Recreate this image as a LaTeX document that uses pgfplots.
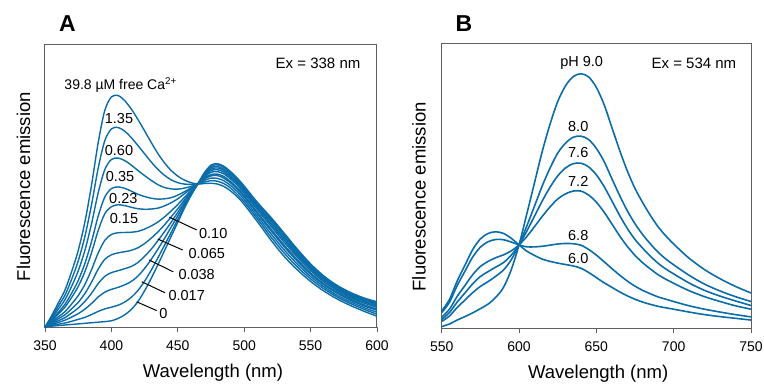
\documentclass[border=0pt]{standalone}
\usepackage{fontspec}
\setmainfont{Liberation Sans}
\usepackage{pgfplots}
\pgfplotsset{compat=1.18}
\usepackage{pgfplotstable}
\definecolor{curve}{RGB}{10,108,168}
\definecolor{frame}{RGB}{95,95,95}

\pgfplotstableread{
x c0 c1 c2 c3 c4 c5 c6 c7 c8 c9 c10
350 0 0 0 0 0 0 0 0 0 0 0
355 0.3 0.5 0.8 1.1 1.4 1.7 2.2 2.5 3.0 3.5 4.0
360 0.5 1.0 1.6 2.2 2.9 3.6 4.6 5.2 6.3 7.4 8.5
365 0.7 1.4 2.4 3.3 4.3 5.4 7.0 8.0 9.6 11.2 13.0
370 0.9 2.0 3.5 4.9 6.4 8.1 10.4 11.9 14.3 16.8 19.5
375 1.1 2.7 4.7 6.7 8.7 11.1 14.3 16.4 19.8 23.3 27.0
380 1.3 3.4 6.3 9.0 11.8 15.0 19.5 22.4 27.0 31.9 37.0
385 1.5 4.4 8.3 11.9 15.8 20.2 26.2 30.1 36.4 43.1 50.0
390 1.7 5.5 10.6 15.3 20.4 26.1 34.0 39.1 47.3 56.0 65.0
395 1.9 6.4 12.3 17.9 23.9 30.6 40.0 45.9 55.6 65.8 76.5
400 2.2 7.0 13.3 19.2 25.5 32.7 42.5 48.9 59.2 70.0 81.3
405 3.0 7.7 14.0 19.9 26.2 33.3 43.2 49.5 59.7 70.5 81.8
410 4.3 8.8 14.9 20.6 26.6 33.4 42.9 49.0 58.8 69.2 80.0
415 6.2 10.5 16.1 21.4 27.1 33.5 42.3 48.0 57.2 66.9 77.0
420 9.0 12.9 18.0 22.8 28.0 33.8 41.8 46.9 55.3 64.1 73.3
425 12.8 16.2 20.7 25.0 29.5 34.6 41.6 46.1 53.5 61.2 69.3
430 17.2 20.1 23.9 27.5 31.4 35.7 41.7 45.5 51.8 58.3 65.2
435 22.0 24.4 27.5 30.5 33.6 37.1 42.0 45.2 50.3 55.7 61.3
440 27.0 28.9 31.3 33.7 36.1 38.9 42.8 45.3 49.3 53.6 58.0
445 32.0 33.4 35.3 37.0 38.9 41.0 43.9 45.7 48.8 52.0 55.3
450 37.0 38.0 39.3 40.5 41.8 43.3 45.3 46.6 48.7 51.0 53.3
455 42.0 42.6 43.4 44.1 44.9 45.8 47.1 47.8 49.1 50.5 51.9
460 46.5 46.8 47.1 47.5 47.8 48.2 48.8 49.2 49.7 50.4 51.0
465 50.5 50.5 50.5 50.5 50.5 50.5 50.5 50.5 50.5 50.5 50.5
470 54.5 54.3 54.0 53.7 53.4 53.0 52.6 52.3 51.8 51.2 50.7
475 57.2 56.8 56.3 55.8 55.3 54.7 53.9 53.4 52.6 51.7 50.8
480 57.7 57.3 56.7 56.2 55.6 54.9 54.0 53.5 52.5 51.5 50.5
485 56.7 56.3 55.7 55.2 54.6 54.0 53.1 52.5 51.6 50.6 49.6
490 54.8 54.4 53.9 53.3 52.8 52.2 51.3 50.8 49.9 49.0 48.0
495 52.5 52.1 51.6 51.1 50.6 50.0 49.1 48.6 47.8 46.8 45.9
500 49.8 49.4 48.9 48.4 47.9 47.3 46.5 46.0 45.1 44.2 43.3
510 44.0 43.6 43.0 42.5 42.0 41.4 40.5 40.0 39.1 38.2 37.2
520 38.8 38.3 37.7 37.1 36.4 35.7 34.7 34.1 33.0 31.9 30.8
530 33.2 32.7 32.1 31.4 30.8 30.0 29.0 28.4 27.3 26.2 25.0
540 27.5 27.1 26.5 25.9 25.3 24.7 23.8 23.2 22.2 21.2 20.2
550 22.3 21.9 21.4 21.0 20.5 19.9 19.1 18.6 17.8 17.0 16.1
560 18.0 17.7 17.3 16.9 16.4 16.0 15.3 14.9 14.2 13.5 12.7
570 14.7 14.4 14.0 13.7 13.3 12.9 12.3 11.9 11.2 10.6 9.9
580 12.2 11.9 11.6 11.2 10.8 10.4 9.9 9.5 8.9 8.3 7.6
590 10.3 10.0 9.6 9.3 8.9 8.5 7.9 7.5 6.9 6.3 5.6
600 8.9 8.6 8.2 7.8 7.4 6.9 6.3 5.9 5.2 4.5 3.8
}\dataA

\pgfplotstableread{
x p60 p68 p72 p76 p80 p90
550 6.0 5.4 3.8 3.0 2.3 0.5
555 10.0 9.0 6.6 5.4 4.2 1.4
560 16.5 14.9 11.1 9.1 7.2 2.8
565 22.0 19.9 14.9 12.3 9.8 4.0
570 27.5 24.9 18.7 15.5 12.4 5.3
575 31.3 28.4 21.6 18.1 14.6 6.8
580 33.2 30.3 23.4 19.8 16.3 8.4
585 33.8 31.1 24.7 21.4 18.2 10.8
590 33.2 31.0 25.7 23.0 20.4 14.3
595 31.5 30.2 27.1 25.6 24.0 20.5
600 29.2 29.2 29.2 29.2 29.2 29.2
605 27.0 28.5 32.1 34.0 35.8 40.0
610 25.5 28.5 35.6 39.3 42.8 51.0
615 24.2 28.7 39.2 44.6 49.9 62.0
620 23.4 29.1 42.5 49.4 56.1 71.5
625 22.8 29.5 45.3 53.4 61.4 79.5
630 22.3 29.7 47.1 56.2 64.9 85.0
635 21.8 29.6 48.1 57.7 67.0 88.3
640 21.0 29.1 48.1 57.9 67.4 89.3
645 19.5 27.6 46.7 56.6 66.2 88.2
650 17.7 25.6 44.2 53.8 63.1 84.5
655 15.9 23.3 40.7 49.7 58.5 78.5
660 14.3 20.9 36.6 44.7 52.5 70.5
665 12.7 18.6 32.4 39.6 46.6 62.5
670 11.3 16.5 28.7 35.0 41.2 55.2
675 10.1 14.7 25.5 31.1 36.6 49.0
680 9.1 13.2 22.9 28.0 32.8 44.0
685 8.3 12.0 20.7 25.2 29.5 39.5
690 7.6 10.9 18.7 22.7 26.6 35.5
695 7.1 10.1 17.1 20.7 24.2 32.3
700 6.6 9.3 15.7 19.0 22.2 29.5
710 5.6 7.8 13.1 15.8 18.5 24.5
720 4.7 6.6 11.0 13.2 15.4 20.5
730 4.0 5.6 9.3 11.2 13.0 17.3
740 3.4 4.7 7.8 9.5 11.0 14.6
750 2.8 3.9 6.6 7.9 9.3 12.3
}\dataB

\pgfplotsset{
  panel/.style={
    anchor=south west, scale only axis,
    ymin=0, ymax=100, ytick=\empty,
    xtick pos=bottom, tick align=outside, major tick length=5pt,
    axis line style={frame, line width=1pt},
    tick style={frame, line width=0.8pt},
    /pgf/number format/assume math mode=true,
    every tick label/.append style={font=\fontsize{14}{14}\selectfont, text=black},
    xticklabel style={yshift=-5pt},
    xlabel={Wavelength (nm)}, ylabel={Fluorescence emission},
    label style={font=\fontsize{18.5}{20}\selectfont, text=black},
  },
}
\tikzset{lab/.style={font=\fontsize{14.5}{15}\selectfont, inner sep=0pt}}

\begin{document}
\begin{tikzpicture}
\path[use as bounding box] (0pt,0pt) rectangle (764pt,384pt);

\begin{axis}[panel, at={(45pt,57pt)}, width=332pt, height=283pt,
  xmin=350, xmax=600, xtick={350,400,450,500,550,600},
  xlabel style={at={(axis description cs:0.506,-0.161)}, anchor=center},
  ylabel style={at={(axis description cs:-0.065,0.496)}, anchor=center}]
  \foreach \c in {c0,c1,c2,c3,c4,c5,c6,c7,c8,c9,c10}{
    \addplot[curve, line width=1.4pt, smooth] table[x=x, y=\c] {\dataA};
  }
  \node[font=\fontsize{15}{15}\selectfont] at (axis cs:555.6,93.2) {Ex = 338 nm};
  \node[anchor=west, font=\fontsize{14}{15}\selectfont] at (axis cs:362,85.5) {39.8 µM free Ca\textsuperscript{2+}};
  \node[lab] at (axis cs:405.7,73.7) {1.35};
  \node[lab] at (axis cs:405.7,62.5) {0.60};
  \node[lab] at (axis cs:406.5,53.1) {0.35};
  \node[lab] at (axis cs:409,45.5) {0.23};
  \node[lab] at (axis cs:409.5,38.2) {0.15};
  \node[lab] at (axis cs:476.7,33.1) {0.10};
  \node[lab] at (axis cs:471.8,25.8) {0.065};
  \node[lab] at (axis cs:464.2,18.4) {0.038};
  \node[lab] at (axis cs:456.7,11.3) {0.017};
  \node[lab] at (axis cs:439.1,4.8) {0};
  \draw[black, line width=1pt] (axis cs:443.6,38.8) -- (axis cs:464.2,34.3);
  \draw[black, line width=1pt] (axis cs:434.9,31.1) -- (axis cs:453.7,27.2);
  \draw[black, line width=1pt] (axis cs:428.3,23.7) -- (axis cs:446.6,19.5);
  \draw[black, line width=1pt] (axis cs:422.8,16.0) -- (axis cs:440.4,12.1);
  \draw[black, line width=1pt] (axis cs:419.0,8.9) -- (axis cs:434.1,5.8);
\end{axis}

\begin{axis}[panel, at={(441.7pt,56pt)}, width=309.3pt, height=284.7pt,
  xmin=550, xmax=750, xtick={550,600,650,700,750},
  xlabel style={at={(axis description cs:0.506,-0.162)}, anchor=center},
  ylabel style={at={(axis description cs:-0.073,0.461)}, anchor=center}]
  \foreach \c in {p60,p68,p72,p76,p80,p90}{
    \addplot[curve, line width=1.6pt, smooth] table[x=x, y=\c] {\dataB};
  }
  \node[font=\fontsize{15}{15}\selectfont] at (axis cs:713.1,93.0) {Ex = 534 nm};
  \node[lab] at (axis cs:640.5,93.0) {pH 9.0};
  \node[lab] at (axis cs:638.3,70.7) {8.0};
  \node[lab] at (axis cs:638.3,61.7) {7.6};
  \node[lab] at (axis cs:638.3,51.4) {7.2};
  \node[lab] at (axis cs:638.3,32.6) {6.8};
  \node[lab] at (axis cs:638.3,24.4) {6.0};
\end{axis}

\node[font=\bfseries\fontsize{23}{23}\selectfont] at (67.5pt,360.7pt) {A};
\node[font=\bfseries\fontsize{23}{23}\selectfont] at (464pt,360.3pt) {B};
\end{tikzpicture}
\end{document}
